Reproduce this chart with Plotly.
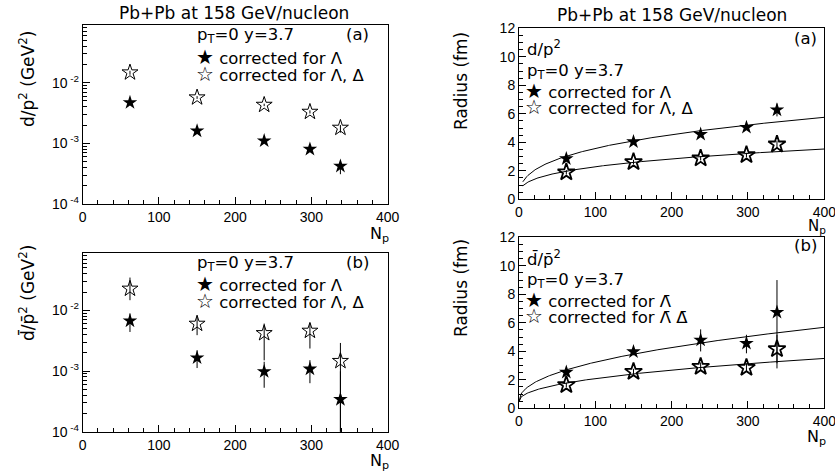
import numpy as np
import plotly.graph_objects as go

# ---------------- data ----------------
Np = [62, 150, 238, 298, 338]

# (top-left) d/p^2 invariant yield ratio
dp_lam = [4.7e-3, 1.6e-3, 1.1e-3, 8.0e-4, 4.2e-4]
dp_lam_up = [3e-4, 1e-4, 8e-5, 6e-5, 8e-5]
dp_lam_dn = [4e-4, 1e-4, 8e-5, 6e-5, 1.1e-4]
dp_lamdel = [1.47e-2, 5.7e-3, 4.3e-3, 3.3e-3, 1.8e-3]
dp_lamdel_up = [1e-3, 3e-4, 2e-4, 2e-4, 2e-4]
dp_lamdel_dn = [1.2e-3, 3e-4, 2e-4, 2e-4, 3e-4]

# (bottom-left) dbar/pbar^2
dbp_lam = [6.7e-3, 1.65e-3, 9.8e-4, 1.08e-3, 3.4e-4]
dbp_lam_up = [2.2e-3, 5.5e-4, 4.4e-4, 4.3e-4, 6.5e-4]
dbp_lam_dn = [2.3e-3, 5.3e-4, 4.5e-4, 4.5e-4, 3.399e-4]
dbp_lamdel = [2.27e-2, 6.0e-3, 4.2e-3, 4.6e-3, 1.46e-3]
dbp_lamdel_up = [1.2e-2, 2.3e-3, 1.85e-3, 1.6e-3, 1.44e-3]
dbp_lamdel_dn = [8e-3, 2.1e-3, 2.7e-3, 2.25e-3, 1.4599e-3]

# (top-right) radius from d/p^2
Rd_lam = [2.85, 4.04, 4.56, 5.05, 6.27]
Rd_lam_err = [0.15, 0.15, 0.15, 0.15, 0.45]
Rd_lamdel = [1.9, 2.62, 2.88, 3.11, 3.86]
Rd_lamdel_err = [0.15, 0.15, 0.15, 0.15, 0.25]

# (bottom-right) radius from dbar/pbar^2
Rdb_lam = [2.53, 3.97, 4.79, 4.56, 6.74]
Rdb_lam_up = [0.2, 0.25, 0.75, 0.6, 2.26]
Rdb_lam_dn = [0.2, 0.25, 0.8, 0.7, 3.94]
Rdb_lamdel = [1.64, 2.57, 2.92, 2.85, 4.16]
Rdb_lamdel_err = [0.15, 0.2, 0.3, 0.3, 1.0]

# fit curves R = c + a * Np^p   (c, a, p)
fit_d_lam = (-0.14, 0.80, 1 / 3)
fit_d_lamdel = (0.17, 0.456, 1 / 3)
fit_db_lam = (0.46, 0.342, 0.455)
fit_db_lamdel = (0.46, 0.205, 0.45)
fit_range_d = (5, 400)
fit_range_db = (0, 400)

x_ticks = [0, 100, 200, 300, 400]
log_ticks = [1e-4, 1e-3, 1e-2]
log_ticktext = ["10<sup> -4</sup>", "10<sup> -3</sup>", "10<sup> -2</sup>"]
r_ticks = [0, 2, 4, 6, 8, 10, 12]

# ---------------- figure ----------------
W, H = 835, 473
TXT = "DejaVu Sans"
TICKF = "Liberation Sans"


def px(x):
    return x / W


def py(y):
    return 1 - y / H


fig = go.Figure()


def add_points(x, y, up, dn, symbol, size, lw, xa, ya):
    fig.add_trace(go.Scatter(
        x=x, y=y, mode="markers", xaxis=xa, yaxis=ya, showlegend=False,
        marker=dict(symbol=symbol, size=size, color="black",
                    line=dict(color="black", width=lw)),
        error_y=dict(type="data", symmetric=False, array=up, arrayminus=dn,
                     color="black", thickness=1, width=0),
    ))


def add_fit(params, rng, xa, ya):
    c, a, p = params
    n = np.linspace(rng[0], rng[1], 300)
    fig.add_trace(go.Scatter(x=n, y=c + a * n ** p, mode="lines", xaxis=xa, yaxis=ya,
                             showlegend=False, line=dict(color="black", width=1)))


# top-left
add_points(Np, dp_lam, dp_lam_up, dp_lam_dn, "star", 11, 0, "x", "y")
add_points(Np, dp_lamdel, dp_lamdel_up, dp_lamdel_dn, "star-open", 12, 1, "x", "y")
# bottom-left
add_points(Np, dbp_lam, dbp_lam_up, dbp_lam_dn, "star", 11, 0, "x2", "y2")
add_points(Np, dbp_lamdel, dbp_lamdel_up, dbp_lamdel_dn, "star-open", 12, 1, "x2", "y2")
# top-right
add_fit(fit_d_lam, fit_range_d, "x3", "y3")
add_fit(fit_d_lamdel, fit_range_d, "x3", "y3")
add_points(Np, Rd_lam, Rd_lam_err, Rd_lam_err, "star", 11, 0, "x3", "y3")
add_points(Np, Rd_lamdel, Rd_lamdel_err, Rd_lamdel_err, "star-open", 13, 1.8, "x3", "y3")
# bottom-right
add_fit(fit_db_lam, fit_range_db, "x4", "y4")
add_fit(fit_db_lamdel, fit_range_db, "x4", "y4")
add_points(Np, Rdb_lam, Rdb_lam_up, Rdb_lam_dn, "star", 11, 0, "x4", "y4")
add_points(Np, Rdb_lamdel, Rdb_lamdel_err, Rdb_lamdel_err, "star-open", 13, 1.8, "x4", "y4")

common = dict(showgrid=False, zeroline=False, showline=True, mirror=True,
              linecolor="black", linewidth=1, ticks="inside", tickcolor="black",
              ticklen=7, automargin=False, ticklabeloverflow="allow",
              tickfont=dict(family=TICKF, size=14, color="black"))

xdom_l = [px(82.7), px(387.7)]
xdom_r = [px(519), px(824.3)]
ydom_tl = [py(204), py(25)]
ydom_bl = [py(431.7), py(252.7)]
ydom_tr = [py(199.3), py(28.3)]
ydom_br = [py(408.3), py(237.3)]

xcommon = dict(common, range=[0, 400], tickvals=x_ticks,
               minor=dict(dtick=20, ticklen=4, ticks="inside", tickcolor="black"))
ylog = dict(common, type="log", range=[-4, -1.05], tickvals=log_ticks, ticktext=log_ticktext,
            minor=dict(tickvals=[m * 10.0 ** e for e in (-4, -3, -2) for m in range(2, 10)],
                       ticklen=4, ticks="inside", tickcolor="black"))
ylin = dict(common, range=[0, 12], tickvals=r_ticks,
            minor=dict(dtick=0.5, ticklen=4, ticks="inside", tickcolor="black"))

fig.update_layout(
    width=W, height=H, margin=dict(l=0, r=0, t=0, b=0),
    paper_bgcolor="white", plot_bgcolor="white",
    xaxis=dict(xcommon, domain=xdom_l, anchor="y"),
    yaxis=dict(ylog, domain=ydom_tl, anchor="x"),
    xaxis2=dict(xcommon, domain=xdom_l, anchor="y2"),
    yaxis2=dict(ylog, domain=ydom_bl, anchor="x2"),
    xaxis3=dict(xcommon, domain=xdom_r, anchor="y3"),
    yaxis3=dict(ylin, domain=ydom_tr, anchor="x3"),
    xaxis4=dict(xcommon, domain=xdom_r, anchor="y4"),
    yaxis4=dict(ylin, domain=ydom_br, anchor="x4"),
)


def ann(text, x, y, size=16, xanchor="left", angle=0, family=TXT):
    fig.add_annotation(text=text, x=px(x), y=py(y), xref="paper", yref="paper",
                       xanchor=xanchor, yanchor="middle", showarrow=False,
                       textangle=angle, font=dict(family=family, size=size, color="black"))


pt = "p<sub>T</sub>=0 y=3.7"
dbar = "d\u0304"
pbar = "p\u0304"
lbar = "\u039b\u0304"
dlbar = "\u0394\u0304"
FS = "<span style='font-size:20px'>\u2605</span>"
OS = "<span style='font-size:20px'>\u2606</span>"

# titles
ann("Pb+Pb at 158 GeV/nucleon", 234.5, 13, 17, "center")
ann("Pb+Pb at 158 GeV/nucleon", 672, 15, 17, "center")

# top-left texts
ann(pt, 195, 36, 16.5)
ann("(a)", 357, 35, 16.5, "center")
ann(FS + " corrected for \u039b", 194, 57, 16.5)
ann(OS + " corrected for \u039b, \u0394", 194, 74, 16.5)
# bottom-left texts
ann(pt, 195, 263, 16.5)
ann("(b)", 357, 262, 16.5, "center")
ann(FS + " corrected for \u039b", 194, 284, 16.5)
ann(OS + " corrected for \u039b, \u0394", 194, 301, 16.5)
# top-right texts
ann("d/p<sup>2</sup>", 525, 48, 16.5)
ann(pt, 525, 72, 16.5)
ann(FS + " corrected for \u039b", 523, 91, 16.5)
ann(OS + " corrected for \u039b, \u0394", 523, 107, 16.5)
ann("(a)", 805, 38, 16.5, "center")
# bottom-right texts
ann(dbar + "/" + pbar + "<sup>2</sup>", 525, 258, 16.5)
ann(pt, 525, 280, 16.5)
ann(FS + " corrected for " + lbar, 523, 300, 16.5)
ann(OS + " corrected for " + lbar + " " + dlbar, 523, 316, 16.5)
ann("(b)", 805, 245, 16.5, "center")

# axis titles
ann("d/p<sup>2</sup> (GeV<sup>2</sup>)", 27, 79, 17, "center", -90)
ann(dbar + "/" + pbar + "<sup>2</sup> (GeV<sup>2</sup>)", 27, 293, 17, "center", -90)
ann("Radius (fm)", 461, 81, 17, "center", -90)
ann("Radius (fm)", 461, 288, 17, "center", -90)
ann("N<sub>p</sub>", 391, 234, 16, "right")
ann("N<sub>p</sub>", 828, 226, 15, "right")
ann("N<sub>p</sub>", 391, 461, 16, "right")
ann("N<sub>p</sub>", 828, 437, 16, "right")

fig.write_html("out.html", config={"displayModeBar": False},
               post_script="document.body.style.margin='0';document.body.style.padding='0';")
